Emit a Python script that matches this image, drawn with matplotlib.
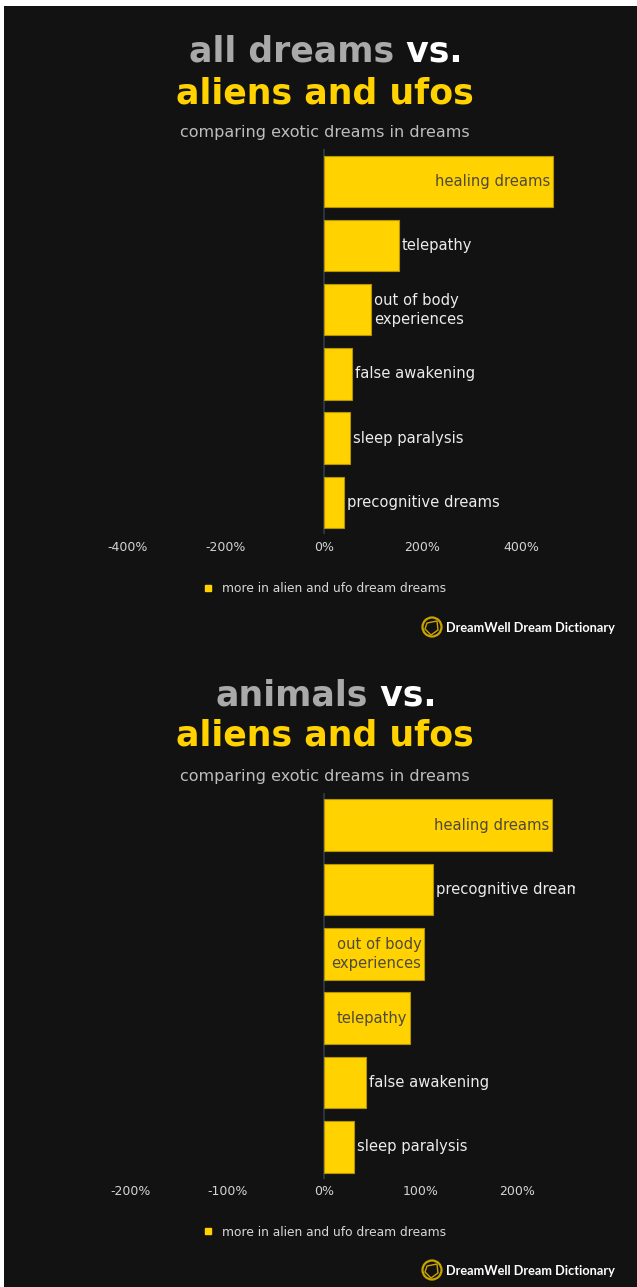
import textwrap
import matplotlib
matplotlib.use("Agg")
import matplotlib.pyplot as plt
from matplotlib.patches import Rectangle, Circle, Polygon
from matplotlib.lines import Line2D
from matplotlib.transforms import offset_copy

# ---- data -------------------------------------------------------------
top_compare = "all dreams"
top_categories = ["healing dreams", "telepathy", "out of body experiences",
                  "false awakening", "sleep paralysis", "precognitive dreams"]
top_values = [465, 152, 95, 56, 53, 40]
top_ticks = [-400, -200, 0, 200, 400]
top_limit = 510

bottom_compare = "animals"
bottom_categories = ["healing dreams", "precognitive dreams", "out of body experiences",
                     "telepathy", "false awakening", "sleep paralysis"]
bottom_values = [236, 113, 104, 89, 44, 31]
bottom_ticks = [-200, -100, 0, 100, 200]
bottom_limit = 260

subject = "aliens and ufos"
subtitle = "comparing exotic dreams in dreams"
legend_label = "more in alien and ufo dream dreams"
brand = "DreamWell Dream Dictionary"

# ---- style ------------------------------------------------------------
W, H = 637, 1287
BG = "#121212"
YELLOW = "#FFD200"
GREY_TITLE = "#a9a9a9"
plt.rcParams["font.family"] = ["DejaVu Sans"]

fig = plt.figure(figsize=(W / 100, H / 100), dpi=100, facecolor="white")
fig.patches.append(Rectangle((3.5 / W, 0), 1, 1 - 6 / H, transform=fig.transFigure,
                             facecolor=BG, edgecolor="none", zorder=-10))


def fx(x):
    return x / W


def fy(y):
    return 1 - y / H


renderer = fig.canvas.get_renderer()


def two_tone(y, left, right, size, c1, c2, cx=326):
    t1 = fig.text(0, fy(y), left, fontsize=size, fontweight="bold", color=c1,
                  va="center", ha="left")
    t2 = fig.text(0, fy(y), right, fontsize=size, fontweight="bold", color=c2,
                  va="center", ha="left")
    w1 = t1.get_window_extent(renderer).width
    w2 = t2.get_window_extent(renderer).width
    x0 = cx - (w1 + w2) / 2
    t1.set_x(fx(x0))
    t2.set_x(fx(x0 + w1))


def panel(y_title, compare, cats, vals, ticks, limit, bar_top, bar_bottom,
          y_legend, y_logo):
    two_tone(y_title, compare, " vs.", 25, GREY_TITLE, "white")
    fig.text(fx(325), fy(y_title + 41), subject, fontsize=25, fontweight="bold",
             color=YELLOW, ha="center", va="center")
    fig.text(fx(325), fy(y_title + 81), subtitle, fontsize=11.5, color="#bdbdbd",
             ha="center", va="center")

    pitch = (bar_bottom - bar_top) / (len(cats) - 0.2)
    y0 = bar_top - 0.1 * pitch
    y1 = y0 + pitch * len(cats)
    ax = fig.add_axes([fx(73), fy(y1), (575 - 73) / W, (y1 - y0) / H])
    ax.set_facecolor("none")
    ax.set_xlim(-limit, limit)
    ax.set_ylim(len(cats) - 0.5, -0.5)
    for s in ax.spines.values():
        s.set_visible(False)
    ax.set_yticks([])
    ax.set_xticks(ticks)
    ax.set_xticklabels([f"{t}%" for t in ticks])
    ax.tick_params(axis="x", length=0, pad=4.5, labelsize=9, labelcolor="#d4d4d4")

    ax.axvline(0, color="#2c3a48", lw=1.2, zorder=1)
    ypos = list(range(len(cats)))
    ax.barh(ypos, vals, height=0.8, color=YELLOW, edgecolor="#b49400",
            linewidth=0.8, zorder=2)

    zero_px = ax.transData.transform((0, 0))[0]
    for yi, name, v in zip(ypos, cats, vals):
        label = textwrap.fill(name, 20)
        t = ax.text(v, yi, label, fontsize=10.6, va="center", ha="right",
                    color="#4e4a3c", zorder=3, linespacing=1.3)
        width = t.get_window_extent(renderer).width
        bar_px = ax.transData.transform((v, 0))[0] - zero_px
        if width + 8 < bar_px:
            t.set_transform(offset_copy(ax.transData, fig=fig, x=-3, y=0, units="dots"))
        else:
            t.set_ha("left")
            t.set_color("#ececec")
            t.set_transform(offset_copy(ax.transData, fig=fig, x=3, y=0, units="dots"))
            t.set_clip_on(True)

    handle = Line2D([], [], marker="s", ls="", color=YELLOW, markersize=5)
    ax.legend([handle], [legend_label], loc="center left", frameon=False,
              bbox_to_anchor=(fx(203), fy(y_legend)), bbox_transform=fig.transFigure,
              fontsize=8.8, labelcolor="#d8d8d8", handlelength=0.8,
              handletextpad=0.75, borderpad=0, borderaxespad=0)

    # brand mark
    cx, cy, r = 432, H - y_logo, 9.5
    fig.patches.append(Circle((cx, cy), r, transform=None, facecolor="none",
                              edgecolor="#c9a400", lw=1.6))
    pts = [(cx - 5, cy + 4), (cx + 5, cy + 6), (cx + 6, cy - 3),
           (cx - 1, cy - 8), (cx - 7, cy - 2)]
    fig.patches.append(Polygon(pts, closed=True, transform=None, facecolor="none",
                               edgecolor="#c9a400", lw=1.0))
    fig.text(fx(446), fy(y_logo + 1), brand, fontsize=9.2, fontweight="bold",
             family="Lato", color="white", ha="left", va="center")
    return ax


panel(52, top_compare, top_categories, top_values, top_ticks, top_limit,
      155.7, 528.0, 589, 627)
panel(695, bottom_compare, bottom_categories, bottom_values, bottom_ticks,
      bottom_limit, 799.3, 1172.7, 1232, 1270)

fig.savefig("out.png", dpi=100, facecolor=fig.get_facecolor())
